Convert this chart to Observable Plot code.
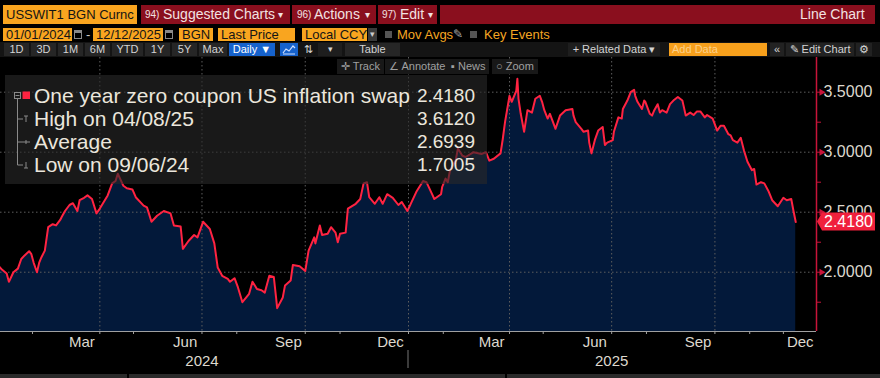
<!DOCTYPE html>
<html><head><meta charset="utf-8">
<script src="https://cdn.jsdelivr.net/npm/d3@7"></script>
<script src="https://cdn.jsdelivr.net/npm/@observablehq/plot@0.6"></script>
<style>
body{margin:0;background:#000;}
#root{position:relative;width:880px;height:378px;overflow:hidden;background:#000;font-family:"Liberation Sans",Arial,sans-serif;}
.a{position:absolute;white-space:nowrap;box-sizing:border-box;z-index:3;}
.org{background:#f9a51f;color:#151515;font-size:13px;line-height:13px;height:13px;top:28px;padding-left:3px;}
.rb{background:#8a0f1e;top:5px;height:19px;}
.rt{color:#f2e2e2;font-size:14px;line-height:19px;top:5px;}
.sm{font-size:10px;}
.b3{top:43px;height:13px;line-height:13px;font-size:11px;color:#d4d4d4;text-align:center;background:#262626;}
.t4{top:59px;height:15px;line-height:15px;font-size:11px;color:#a0a0a0;background:#181818;padding:0 4px;}
.lg{color:#ebe6dc;font-size:21px;line-height:22px;}
.lv{color:#ebe6dc;font-size:19px;line-height:22px;text-align:right;width:90px;}
</style></head><body><div id="root">
<!-- row 1 -->
<div class="a" style="left:3px;top:5px;width:134px;height:19px;line-height:19px;background:#f9a51f;color:#141414;font-size:13px;padding-left:3px">USSWIT1 BGN Curnc</div>
<div class="a rb" style="left:141px;width:149px"></div>
<div class="a rt sm" style="left:145px">94)</div><div class="a rt" style="left:163px">Suggested Charts</div><div class="a rt sm" style="left:278px">▾</div>
<div class="a rb" style="left:292px;width:84px"></div>
<div class="a rt sm" style="left:297px">96)</div><div class="a rt" style="left:314px">Actions</div><div class="a rt sm" style="left:365px">▾</div>
<div class="a rb" style="left:378px;width:59px"></div>
<div class="a rt sm" style="left:382px">97)</div><div class="a rt" style="left:400px">Edit</div><div class="a rt sm" style="left:428px">▾</div>
<div class="a rb" style="left:440px;width:435px"></div>
<div class="a rt" style="left:800px">Line Chart</div>
<!-- row 2 -->
<div class="a org" style="left:3px;width:69px">01/01/2024</div>
<div class="a" style="left:74px;top:30px;width:8px;height:9px;border:1px solid #8a8a8a;border-top:3px solid #8a8a8a"></div>
<div class="a" style="left:86px;top:27px;color:#ccc;font-size:13px">-</div>
<div class="a org" style="left:93px;width:70px">12/12/2025</div>
<div class="a" style="left:165px;top:30px;width:8px;height:9px;border:1px solid #8a8a8a;border-top:3px solid #8a8a8a"></div>
<div class="a org" style="left:179px;width:34px">BGN</div>
<div class="a org" style="left:218px;width:77px">Last Price</div>
<div class="a org" style="left:302px;width:65px">Local CCY</div>
<div class="a" style="left:368px;top:28px;width:9px;height:13px;background:#3a3a3a;color:#ccc;font-size:9px;line-height:13px;text-align:center">▾</div>
<div class="a" style="left:385px;top:31px;width:7px;height:7px;background:#555"></div>
<div class="a" style="left:397px;top:27px;color:#f5a623;font-size:13px;line-height:15px">Mov Avgs</div>
<div class="a" style="left:453px;top:27px;color:#aaa;font-size:12px;line-height:15px">✎</div>
<div class="a" style="left:470px;top:31px;width:7px;height:7px;background:#555"></div>
<div class="a" style="left:484px;top:27px;color:#f5a623;font-size:13px;line-height:15px">Key Events</div>
<!-- row 3 -->
<div class="a" style="left:0;top:42px;width:880px;height:15px;background:#141414;z-index:2"></div>
<div class="a b3" style="left:4px;width:25px">1D</div>
<div class="a b3" style="left:31px;width:25px">3D</div>
<div class="a b3" style="left:58px;width:25px">1M</div>
<div class="a b3" style="left:85px;width:25px">6M</div>
<div class="a b3" style="left:112px;width:31px">YTD</div>
<div class="a b3" style="left:145px;width:25px">1Y</div>
<div class="a b3" style="left:172px;width:25px">5Y</div>
<div class="a b3" style="left:199px;width:28px">Max</div>
<div class="a b3" style="left:229px;width:46px;background:#1662cc;color:#fff">Daily ▼</div>
<div class="a b3" style="left:280px;width:18px;background:#1662cc"><svg width="18" height="13"><polyline points="3,10 6,6 9,8 13,3 15,5" fill="none" stroke="#cfe0ff" stroke-width="1.2"/><line x1="3" y1="11" x2="15" y2="11" stroke="#cfe0ff"/></svg></div>
<div class="a b3" style="left:300px;width:16px;background:none">⇅</div>
<div class="a b3" style="left:318px;width:24px;background:#1e1e1e;font-size:9px">▾</div>
<div class="a b3" style="left:345px;width:55px">Table</div>
<div class="a b3" style="left:568px;width:92px;background:#1e1e1e">+ Related Data ▾</div>
<div class="a b3" style="left:669px;width:98px;background:#f7a01c;color:#fcd18a;text-align:left;padding-left:3px">Add Data</div>
<div class="a b3" style="left:770px;width:14px;background:#222">«</div>
<div class="a b3" style="left:786px;width:68px;background:#222">✎ Edit Chart</div>
<div class="a b3" style="left:856px;width:16px;background:#222">⚙</div>
<!-- row 4 -->
<div class="a t4" style="left:337px">✛ Track</div>
<div class="a t4" style="left:385px">∠ Annotate</div>
<div class="a t4" style="left:447px">▪ News</div>
<div class="a t4" style="left:492px">○ Zoom</div>
<!-- legend -->
<div class="a" style="left:5px;top:75px;width:482px;height:109px;background:rgba(40,40,40,0.62)"></div>
<svg class="a" style="left:0;top:75px" width="40" height="110">
<g stroke="#8a8a8a" fill="none" stroke-width="1">
<rect x="14.5" y="17.5" width="6" height="6"/><line x1="15.5" y1="20.5" x2="19.5" y2="20.5"/>
<line x1="17.5" y1="24" x2="17.5" y2="90"/>
<line x1="17.5" y1="44" x2="23" y2="44"/><line x1="24" y1="41" x2="28" y2="41"/><line x1="26" y1="41" x2="26" y2="47"/>
<line x1="17.5" y1="67" x2="30" y2="67"/><line x1="26" y1="65" x2="26" y2="69"/>
<line x1="17.5" y1="90" x2="23" y2="90"/><line x1="24" y1="93" x2="28" y2="93"/><line x1="26" y1="87" x2="26" y2="93"/>
</g>
<rect x="22.5" y="16.5" width="7.5" height="7.5" fill="#ff2341"/>
</svg>
<div class="a lg" style="left:34px;top:85px">One year zero coupon US inflation swap</div>
<div class="a lg" style="left:34px;top:108px">High on 04/08/25</div>
<div class="a lg" style="left:34px;top:131px">Average</div>
<div class="a lg" style="left:34px;top:154px">Low on 09/06/24</div>
<div class="a lv" style="left:385px;top:85px">2.4180</div>
<div class="a lv" style="left:385px;top:108px">3.6120</div>
<div class="a lv" style="left:385px;top:131px">2.6939</div>
<div class="a lv" style="left:385px;top:154px">1.7005</div>
<!-- bottom strip -->
<div class="a" style="left:0;top:374px;width:880px;height:4px;background:#2a2a2a"></div>
<div class="a" style="left:127px;top:374px;width:2px;height:4px;background:#000"></div>
<div class="a" style="left:505px;top:374px;width:2px;height:4px;background:#000"></div>
<div id="chart" style="position:absolute;left:0;top:57px;z-index:1"></div>
</div>
<script>
const dates = [
"2024-01-02","2024-01-05","2024-01-09","2024-01-11","2024-01-15","2024-01-19","2024-01-22","2024-01-25","2024-01-29","2024-01-31",
"2024-02-02","2024-02-05","2024-02-07","2024-02-09","2024-02-12","2024-02-15","2024-02-19","2024-02-22","2024-02-26","2024-02-27",
"2024-03-01","2024-03-05","2024-03-08","2024-03-12","2024-03-14","2024-03-18","2024-03-21","2024-03-25","2024-03-29","2024-04-01",
"2024-04-08","2024-04-12","2024-04-15","2024-04-17","2024-04-22","2024-04-25","2024-04-30","2024-05-03","2024-05-10","2024-05-13",
"2024-05-17","2024-05-22","2024-05-28","2024-06-03","2024-06-06","2024-06-12","2024-06-14","2024-06-19","2024-06-24","2024-06-27",
"2024-07-02","2024-07-08","2024-07-12","2024-07-15","2024-07-19","2024-07-24","2024-07-26","2024-07-30","2024-08-02","2024-08-06",
"2024-08-12","2024-08-15","2024-08-19","2024-08-23","2024-08-26","2024-08-30","2024-09-03","2024-09-05","2024-09-06","2024-09-11",
"2024-09-13","2024-09-18","2024-09-20","2024-09-26","2024-10-01","2024-10-04","2024-10-09","2024-10-10","2024-10-14","2024-10-16",
"2024-10-21","2024-10-24","2024-10-28","2024-10-30","2024-11-01","2024-11-06","2024-11-08","2024-11-15","2024-11-19","2024-11-22",
"2024-11-25","2024-11-27","2024-12-02","2024-12-06","2024-12-09","2024-12-13","2024-12-18","2024-12-23","2024-12-26","2024-12-31",
"2025-01-03","2025-01-08","2025-01-14","2025-01-17","2025-01-22","2025-01-24","2025-01-30","2025-01-31","2025-02-03","2025-02-05",
"2025-02-07","2025-02-12","2025-02-14","2025-02-18","2025-02-21","2025-02-28","2025-03-07","2025-03-11","2025-03-14","2025-03-18",
"2025-03-24","2025-03-26","2025-03-28","2025-04-01","2025-04-03","2025-04-07","2025-04-08","2025-04-09","2025-04-11","2025-04-14",
"2025-04-17","2025-04-21","2025-04-24","2025-04-28","2025-04-30","2025-05-02","2025-05-05","2025-05-07","2025-05-12","2025-05-16",
"2025-05-21","2025-05-27","2025-05-28","2025-05-30","2025-06-04","2025-06-06","2025-06-10","2025-06-11","2025-06-13","2025-06-16",
"2025-06-19","2025-06-23","2025-06-25","2025-06-27","2025-07-02","2025-07-03","2025-07-07","2025-07-10","2025-07-11","2025-07-15",
"2025-07-18","2025-07-21","2025-07-22","2025-07-24","2025-07-28","2025-07-30","2025-07-31","2025-08-04","2025-08-06","2025-08-08",
"2025-08-11","2025-08-13","2025-08-15","2025-08-19","2025-08-22","2025-08-25","2025-08-29","2025-09-02","2025-09-03","2025-09-05",
"2025-09-09","2025-09-12","2025-09-15","2025-09-18","2025-09-22","2025-09-24","2025-09-29","2025-10-03","2025-10-06","2025-10-09",
"2025-10-13","2025-10-15","2025-10-17","2025-10-21","2025-10-24","2025-10-27","2025-10-30","2025-11-03","2025-11-05","2025-11-07",
"2025-11-11","2025-11-14","2025-11-18","2025-11-21","2025-11-26","2025-12-01","2025-12-04","2025-12-08","2025-12-10","2025-12-12"];
const values = [
2.05,2.02,1.99,1.92,2.00,2.03,2.11,2.14,2.175,2.15,
2.08,2.00,2.08,2.125,2.18,2.375,2.40,2.39,2.44,2.46,
2.51,2.56,2.575,2.51,2.60,2.62,2.64,2.61,2.49,2.53,
2.64,2.74,2.76,2.82,2.72,2.70,2.69,2.625,2.555,2.54,
2.42,2.47,2.51,2.49,2.39,2.38,2.195,2.26,2.31,2.29,
2.42,2.36,2.24,2.04,1.97,1.945,1.92,1.95,1.875,1.75,
1.82,1.92,1.86,1.85,1.83,1.97,1.96,1.79,1.7005,1.79,
1.89,1.93,2.06,2.05,2.01,2.18,2.29,2.24,2.39,2.31,
2.32,2.375,2.33,2.25,2.32,2.33,2.53,2.57,2.61,2.74,
2.75,2.625,2.57,2.625,2.57,2.65,2.62,2.56,2.585,2.51,
2.57,2.67,2.76,2.75,2.65,2.61,2.65,2.71,2.78,2.75,
2.85,2.93,3.03,2.97,2.96,3.00,2.985,3.00,2.93,2.945,
2.99,3.11,3.25,3.47,3.42,3.51,3.612,3.445,3.32,3.17,
3.35,3.33,3.445,3.47,3.42,3.35,3.28,3.32,3.195,3.305,
3.35,3.36,3.305,3.25,3.195,3.17,3.18,3.08,2.99,3.10,
3.18,3.21,3.06,3.08,3.10,3.17,3.29,3.28,3.36,3.43,
3.50,3.52,3.47,3.42,3.36,3.43,3.42,3.32,3.305,3.35,
3.40,3.33,3.35,3.33,3.40,3.43,3.46,3.43,3.39,3.305,
3.33,3.31,3.34,3.34,3.29,3.31,3.28,3.18,3.22,3.22,
3.15,3.14,3.10,3.08,3.12,3.01,2.92,2.85,2.86,2.73,
2.75,2.74,2.67,2.60,2.55,2.62,2.60,2.61,2.51,2.418];
const yMajor = [2.0, 2.5, 3.0, 3.5];
const yMinor = [1.75, 2.25, 2.75, 3.25];
const quarterDates = ["2024-04-01","2024-07-01","2024-10-01","2025-01-01","2025-04-01","2025-07-01","2025-10-01"];
const monthTicks = ["2024-02-01","2024-04-01","2024-05-01","2024-07-01","2024-08-01","2024-10-01","2024-11-01","2025-01-01","2025-02-01","2025-04-01","2025-05-01","2025-07-01","2025-08-01","2025-10-01","2025-11-01","2025-12-01"];
const monthLabels = ["2024-03-16","2024-06-16","2024-09-16","2024-12-16","2025-03-16","2025-06-16","2025-09-16","2025-12-16"];
const yearLabels = ["2024-07-01","2025-07-01"];
const yearBreak = "2025-01-01";

const P = d => new Date(d + "T00:00:00Z");
const data = dates.map((d, i) => ({date: P(d), value: values[i]}));
const yDomain = [1.506, 3.789];
const xDomain = [new Date("2024-01-03T12:00:00Z"), new Date("2025-12-30T12:00:00Z")];
const red = "#ff2341", axisRed = "#c8143a", txt = "#ddd8ce", grid = "#5e5e5e";

const plot = Plot.plot({
  width: 880, height: 321,
  marginLeft: 0, marginRight: 64, marginTop: 0, marginBottom: 47,
  style: {background: "transparent", fontFamily: "'Liberation Sans', Arial, sans-serif", color: txt},
  x: {type: "utc", domain: xDomain, axis: null},
  y: {domain: yDomain, axis: null},
  marks: [
    Plot.areaY(data, {x: "date", y1: yDomain[0], y2: "value", fill: "#03193a"}),
    Plot.ruleY(yMajor, {stroke: grid, strokeDasharray: "1.5,2.5"}),
    Plot.ruleX(quarterDates.map(P), {stroke: grid, strokeDasharray: "1.5,2.5"}),
    Plot.lineY(data, {x: "date", y: "value", stroke: red, strokeWidth: 2}),
    Plot.ruleY([yDomain[0]], {stroke: "#a0a0a0"}),
    Plot.axisX(monthTicks.map(P), {anchor: "bottom", tickSize: 3, stroke: "#a0a0a0", fill: "none", label: null}),
    Plot.axisX(monthLabels.map(P), {anchor: "bottom", tickSize: 0, tickPadding: 5, tickFormat: d3.utcFormat("%b"), fontSize: 15, fill: txt, label: null}),
    Plot.axisX(yearLabels.map(P), {anchor: "bottom", tickSize: 0, tickPadding: 24, tickFormat: d3.utcFormat("%Y"), fontSize: 15, fill: txt, label: null}),
    Plot.ruleX([xDomain[1]], {stroke: axisRed, strokeWidth: 1.5}),
    Plot.axisY(yMinor, {anchor: "right", tickSize: 4, stroke: axisRed, fill: "none", label: null}),
    Plot.axisY(yMajor, {anchor: "right", tickSize: 6, tickPadding: 1, stroke: axisRed, fill: txt, fontSize: 16, tickFormat: d3.format(".4f"), label: null}),
    Plot.dot(yMajor, {x: () => xDomain[1], y: d => d, symbol: "triangle", rotate: 90, r: 2.6, fill: axisRed, dx: 5})
  ]
});
document.getElementById("chart").appendChild(plot);

const svg = d3.select(plot);
const xs = plot.scale("x"), ys = plot.scale("y");
const xb = xs.apply(P(yearBreak));
svg.append("line").attr("x1", xb).attr("x2", xb).attr("y1", 293).attr("y2", 311).attr("stroke", "#777");
const last = values[values.length - 1];
const ty = ys.apply(last);
const xr = xs.apply(xDomain[1]);
svg.append("path")
  .attr("d", `M${xr + 1},${ty} L${xr + 6},${ty - 9} L${xr + 59},${ty - 9} L${xr + 59},${ty + 9} L${xr + 6},${ty + 9} Z`)
  .attr("fill", "#f0203c");
svg.append("text").attr("x", xr + 8).attr("y", ty).attr("dy", "0.35em")
  .attr("text-anchor", "start")
  .attr("fill", "#fff").attr("font-size", 16).attr("font-family", "'Liberation Sans', Arial, sans-serif")
  .text(d3.format(".4f")(last));
</script>
</body></html>
